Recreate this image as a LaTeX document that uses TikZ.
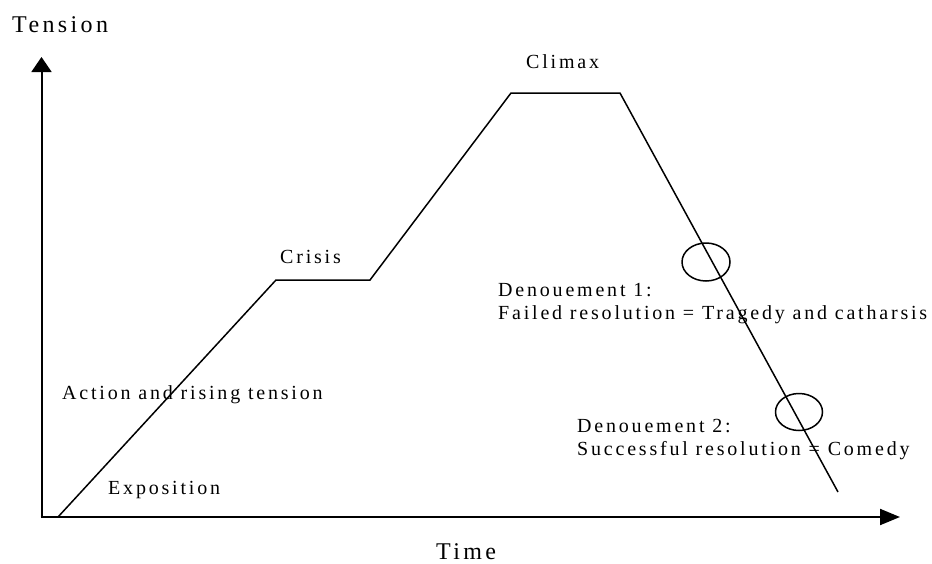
\documentclass[tikz,border=0pt]{standalone}
\usepackage{fontspec}
\setmainfont{Liberation Serif}[LetterSpace=14]
\usetikzlibrary{arrows.meta}
\tikzset{
    lbl/.style={anchor=base west,inner sep=0,font=\fontsize{20}{24}\selectfont},
    biglbl/.style={anchor=base west,inner sep=0,font=\fontsize{24}{28}\selectfont},
    plot/.style={line width=1.5pt,line join=miter},
}
\begin{document}
\begin{tikzpicture}[x=1pt,y=-1pt]
\useasboundingbox (0,0) rectangle (932,563);
%axes
\path[draw, line width=2pt, -{Triangle[length=15pt,width=20pt]}] (41.5,518) -- (41.5,57);
\path[draw, line width=2pt, -{Triangle[length=20pt,width=16pt]}] (40.5,517) -- (900,517);
%tension curve
\coordinate (start) at (58,517);
\coordinate (crisisL) at (276,280);
\coordinate (crisisR) at (370,280);
\coordinate (climaxL) at (511,93);
\coordinate (climaxR) at (620,93);
\coordinate (finish) at (838,492);
\draw[plot] (start) -- (crisisL) -- (crisisR) -- (climaxL) -- (climaxR) -- (finish);
%denouement marks
\draw[line width=1.5pt] (706,262) ellipse [x radius=24pt, y radius=19pt];
\draw[line width=1.5pt] (799,412) ellipse [x radius=23.5pt, y radius=18.5pt];
%labels
\node[biglbl] (tension) at (12,32){Tension};
\node[biglbl] (time) at (436,559){Time};
\node[lbl] (climax) at (526,68){Climax};
\node[lbl] (crisis) at (280,263){Crisis};
\node[lbl] (action) at (62,399){Action and rising tension};
\node[lbl] (expo) at (108,494){Exposition};
\node[lbl] (den1) at (498,296){Denouement 1:};
\node[lbl] (fail) at (498,319){Failed resolution = Tragedy and catharsis};
\node[lbl] (den2) at (577,432){Denouement 2:};
\node[lbl] (succ) at (577,455){Successful resolution = Comedy};
\end{tikzpicture}
\end{document}
